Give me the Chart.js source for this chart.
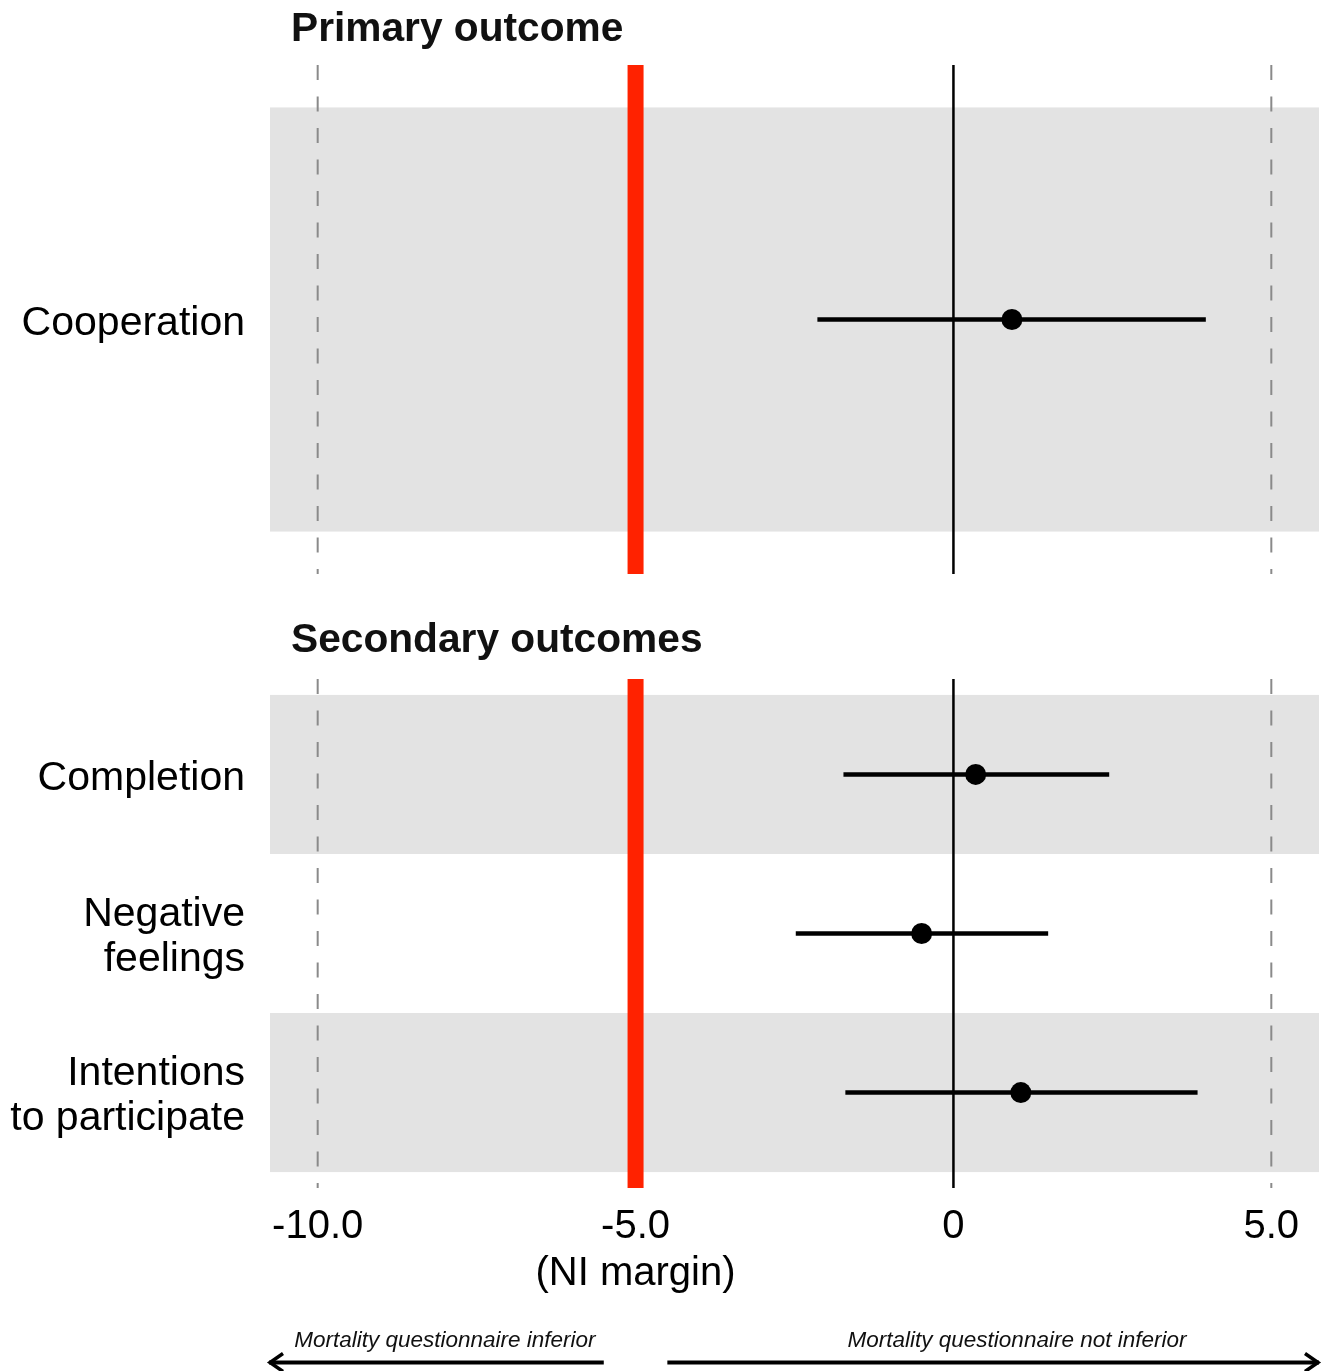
<!DOCTYPE html>
<html>
<head>
<meta charset="utf-8">
<script src="https://cdn.jsdelivr.net/npm/chart.js@4.4.1/dist/chart.umd.min.js"></script>
<style>
  html, body { margin: 0; padding: 0; background: #ffffff; }
  canvas { display: block; }
  #wrap { position: relative; width: 1331px; height: 1371px; overflow: hidden; }
</style>
</head>
<body>
<div id="wrap">
  <canvas id="top" width="1331" height="600"></canvas>
  <canvas id="bottom" width="1331" height="771"></canvas>
</div>
<script>
// ---------- data ----------
const primaryTitle = 'Primary outcome';
const secondaryTitle = 'Secondary outcomes';
const primaryRows = [['Cooperation']];
const primaryEst = [0.92];
const primaryLow = [-2.14];
const primaryHigh = [3.97];

const secondaryRows = [['Completion'], ['Negative', 'feelings'], ['Intentions', 'to participate']];
const secondaryEst = [0.35, -0.50, 1.06];
const secondaryLow = [-1.73, -2.48, -1.70];
const secondaryHigh = [2.45, 1.49, 3.84];

const xTickValues = [-10, -5, 0, 5];
const xTickLabels = ['-10.0', ['-5.0', '(NI margin)'], '0', '5.0'];
const niMargin = -5;
const nullLine = 0;
const dashedRefs = [-10, 5];
const xMin = -10.75, xMax = 5.75;

const leftNote = 'Mortality questionnaire inferior';
const rightNote = 'Mortality questionnaire not inferior';

// ---------- styling ----------
const FONT = "'Liberation Sans', Arial, Helvetica, sans-serif";
Chart.defaults.font.family = FONT;
Chart.defaults.color = '#000000';

const bandPlugin = {
  id: 'bands',
  beforeDatasetsDraw(chart, args, opts) {
    const { ctx, chartArea } = chart;
    const y = chart.scales.y;
    ctx.save();
    ctx.fillStyle = '#e3e3e3';
    opts.rows.forEach(r => {
      const y1 = y.getPixelForValue(r - 0.5);
      const y2 = y.getPixelForValue(r + 0.5);
      ctx.fillRect(chartArea.left, Math.min(y1, y2), chartArea.right - chartArea.left, Math.abs(y2 - y1));
    });
    ctx.restore();
  }
};

const titlePlugin = {
  id: 'paneltitle',
  afterDraw(chart, args, opts) {
    const ctx = chart.ctx;
    ctx.save();
    ctx.font = 'bold 40.7px ' + FONT;
    ctx.fillStyle = '#111111';
    ctx.textAlign = 'left';
    ctx.textBaseline = 'alphabetic';
    ctx.fillText(opts.text, 291, opts.baseline);
    ctx.restore();
  }
};

const notePlugin = {
  id: 'notes',
  afterDraw(chart, args, opts) {
    if (!opts.show) return;
    const ctx = chart.ctx;
    const x = chart.scales.x;
    const yArrow = 762.5;
    const yText = 747;
    ctx.save();
    ctx.font = 'italic 22.5px ' + FONT;
    ctx.fillStyle = '#111111';
    ctx.textAlign = 'center';
    ctx.textBaseline = 'alphabetic';
    ctx.fillText(leftNote, x.getPixelForValue(-8.0), yText);
    ctx.fillText(rightNote, x.getPixelForValue(1.0), yText);
    ctx.strokeStyle = '#000000';
    ctx.lineWidth = 4;
    ctx.lineCap = 'butt';
    const l1 = x.getPixelForValue(xMin) - 1, l2 = x.getPixelForValue(niMargin - 0.5);
    const r1 = x.getPixelForValue(niMargin + 0.5), r2 = x.getPixelForValue(xMax);
    ctx.beginPath();
    ctx.moveTo(l1, yArrow); ctx.lineTo(l2, yArrow);
    ctx.moveTo(r1, yArrow); ctx.lineTo(r2, yArrow);
    ctx.stroke();
    ctx.lineWidth = 3.5;
    ctx.lineJoin = 'miter';
    ctx.beginPath();
    ctx.moveTo(l1 + 14, yArrow - 9); ctx.lineTo(l1 + 1, yArrow); ctx.lineTo(l1 + 14, yArrow + 9);
    ctx.moveTo(r2 - 14, yArrow - 9); ctx.lineTo(r2 - 1, yArrow); ctx.lineTo(r2 - 14, yArrow + 9);
    ctx.stroke();
    ctx.restore();
  }
};

function buildDatasets(est, low, high, yMin, yMax) {
  const rows = est.map((_, i) => i + 1);
  const ds = [];
  ds.push({
    label: 'estimate', order: 0,
    data: est.map((v, i) => ({ x: v, y: rows[i] })),
    pointRadius: 10.5, pointHoverRadius: 10.5,
    pointBackgroundColor: '#000000', pointBorderColor: '#000000', pointBorderWidth: 0,
    showLine: false
  });
  est.forEach((v, i) => {
    ds.push({
      label: 'ci' + i, order: 1,
      data: [{ x: low[i], y: rows[i] }, { x: high[i], y: rows[i] }],
      showLine: true, borderColor: '#000000', borderWidth: 4.5,
      pointRadius: 0, pointHoverRadius: 0
    });
  });
  ds.push({
    label: 'null', order: 2,
    data: [{ x: nullLine, y: yMin }, { x: nullLine, y: yMax }],
    showLine: true, borderColor: '#000000', borderWidth: 2.5,
    pointRadius: 0, pointHoverRadius: 0
  });
  ds.push({
    label: 'ni', order: 3,
    data: [{ x: niMargin, y: yMin }, { x: niMargin, y: yMax }],
    showLine: true, borderColor: 'rgb(255,34,0)', borderWidth: 16,
    pointRadius: 0, pointHoverRadius: 0
  });
  dashedRefs.forEach((d, k) => {
    ds.push({
      label: 'ref' + k, order: 4,
      data: [{ x: d, y: yMax }, { x: d, y: yMin }],
      showLine: true, borderColor: '#8a8a8a', borderWidth: 2,
      borderDash: [15, 16.5], borderDashOffset: 10,
      pointRadius: 0, pointHoverRadius: 0
    });
  });
  return ds;
}

function makeChart(id, cfg) {
  const n = cfg.est.length;
  const yMin = 0.4, yMax = n + 0.6;
  const bandRows = [];
  for (let r = 1; r <= n; r += 2) bandRows.push(r);
  return new Chart(document.getElementById(id), {
    type: 'scatter',
    data: { datasets: buildDatasets(cfg.est, cfg.low, cfg.high, yMin, yMax) },
    options: {
      responsive: false,
      animation: false,
      events: [],
      devicePixelRatio: 1,
      layout: { padding: { top: cfg.padTop, bottom: cfg.padBottom, left: 0, right: 12 } },
      plugins: {
        legend: { display: false },
        tooltip: { enabled: false },
        bands: { rows: bandRows },
        paneltitle: { text: cfg.title, baseline: cfg.titleBaseline },
        notes: { show: cfg.notes }
      },
      scales: {
        x: {
          type: 'linear', min: xMin, max: xMax,
          display: cfg.showX,
          grid: { display: false, drawTicks: false },
          border: { display: false },
          afterBuildTicks: s => { s.ticks = xTickValues.map(v => ({ value: v })); },
          afterFit: s => {
            if (cfg.xHeight) s.height = cfg.xHeight;
            s.paddingLeft = 0; s.paddingRight = 0;
          },
          ticks: {
            padding: 16,
            maxRotation: 0,
            autoSkip: false,
            font: { size: 40, lineHeight: 1.17 },
            color: '#000000',
            callback: v => {
              const i = xTickValues.indexOf(v);
              return i >= 0 ? xTickLabels[i] : '';
            }
          }
        },
        y: {
          type: 'linear', min: yMin, max: yMax, reverse: true,
          grid: { display: false, drawTicks: false },
          border: { display: false },
          afterBuildTicks: s => { s.ticks = cfg.rows.map((_, i) => ({ value: i + 1 })); },
          afterFit: s => { s.width = 270; s.paddingTop = 0; s.paddingBottom = 0; },
          ticks: {
            padding: 25,
            autoSkip: false,
            labelOffset: 4,
            font: { size: 41, lineHeight: 1.1 },
            color: '#000000',
            callback: v => {
              const lab = cfg.rows[v - 1];
              return lab ? (lab.length === 1 ? lab[0] : lab) : '';
            }
          }
        }
      }
    },
    plugins: [bandPlugin, titlePlugin, notePlugin]
  });
}

makeChart('top', {
  est: primaryEst, low: primaryLow, high: primaryHigh, rows: primaryRows,
  title: primaryTitle, titleBaseline: 41,
  padTop: 65, padBottom: 26, showX: false, xHeight: 0, notes: false
});

makeChart('bottom', {
  est: secondaryEst, low: secondaryLow, high: secondaryHigh, rows: secondaryRows,
  title: secondaryTitle, titleBaseline: 52,
  padTop: 79, padBottom: 0, showX: true, xHeight: 183, notes: true
});
</script>
</body>
</html>
